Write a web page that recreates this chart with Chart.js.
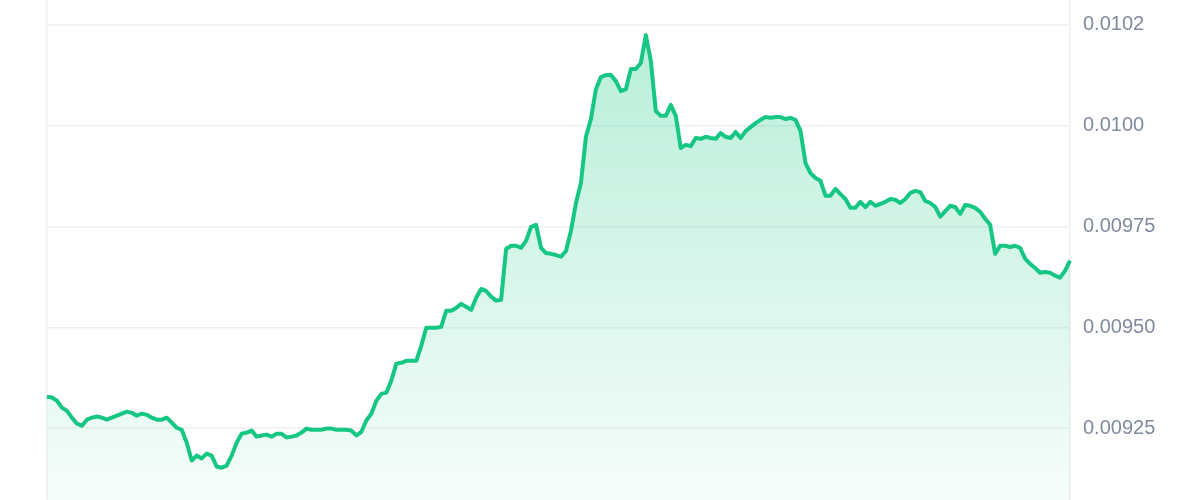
<!DOCTYPE html>
<html>
<head>
<meta charset="utf-8">
<script src="https://cdn.jsdelivr.net/npm/chart.js@4.4.0/dist/chart.umd.min.js"></script>
<style>
  html, body { margin: 0; padding: 0; background: #fff; }
  #wrap { width: 1200px; height: 500px; }
</style>
</head>
<body>
<div id="wrap"><canvas id="priceChart"></canvas></div>
<script>
// price, left to right
const prices = [
  0.009328, 0.009326, 0.009318, 0.009301, 0.009293, 0.009276, 0.009261, 0.009256, 0.009271, 0.009276,
  0.009279, 0.009276, 0.009271, 0.009276, 0.009281, 0.009286, 0.009291, 0.009288, 0.009281, 0.009286,
  0.009283, 0.009276, 0.009271, 0.009271, 0.009276, 0.009264, 0.009251, 0.009246, 0.009214, 0.009170,
  0.009182, 0.009175, 0.009187, 0.009182, 0.009155, 0.009152, 0.009157, 0.009182, 0.009214, 0.009236,
  0.009239, 0.009244, 0.009229, 0.009232, 0.009234, 0.009229, 0.009236, 0.009236, 0.009227, 0.009229,
  0.009232, 0.009239, 0.009249, 0.009246, 0.009246, 0.009246, 0.009249, 0.009249, 0.009246, 0.009246,
  0.009246, 0.009244, 0.009232, 0.009241, 0.009269, 0.009286, 0.009318, 0.009335, 0.009338, 0.009368,
  0.009410, 0.009412, 0.009417, 0.009417, 0.009417, 0.009454, 0.009499, 0.009499, 0.009499, 0.009501,
  0.009541, 0.009541, 0.009548, 0.009558, 0.009551, 0.009543, 0.009573, 0.009595, 0.009590, 0.009576,
  0.009566, 0.009568, 0.009694, 0.009702, 0.009702, 0.009697, 0.009714, 0.009749, 0.009754, 0.009697,
  0.009684, 0.009682, 0.009679, 0.009675, 0.009689, 0.009739, 0.009808, 0.009858, 0.009972, 0.010016,
  0.010090, 0.010120, 0.010125, 0.010125, 0.010110, 0.010085, 0.010090, 0.010140, 0.010140, 0.010155,
  0.010224, 0.010160, 0.010036, 0.010024, 0.010024, 0.010051, 0.010024, 0.009944, 0.009952, 0.009949,
  0.009969, 0.009967, 0.009972, 0.009969, 0.009967, 0.009981, 0.009972, 0.009969, 0.009984, 0.009969,
  0.009986, 0.009996, 0.010006, 0.010014, 0.010021, 0.010019, 0.010021, 0.010021, 0.010016, 0.010019,
  0.010014, 0.009986, 0.009907, 0.009882, 0.009870, 0.009863, 0.009826, 0.009826, 0.009843, 0.009830,
  0.009818, 0.009796, 0.009796, 0.009811, 0.009798, 0.009811, 0.009801, 0.009806, 0.009811, 0.009818,
  0.009816, 0.009808, 0.009818, 0.009833, 0.009838, 0.009835, 0.009813, 0.009808, 0.009798, 0.009774,
  0.009788, 0.009801, 0.009798, 0.009781, 0.009803, 0.009801, 0.009796, 0.009786, 0.009769, 0.009754,
  0.009682, 0.009702, 0.009702, 0.009699, 0.009702, 0.009697, 0.009670, 0.009657, 0.009647, 0.009635,
  0.009637, 0.009635, 0.009628, 0.009623, 0.009640, 0.009665
];

// x axis is hidden, labels are just the sample number
const labels = prices.map((p, i) => i);

// ticks shown on the right, and the text printed for each
const tickValues = [0.00925, 0.0095, 0.00975, 0.01, 0.01025];
const tickLabels = ['0.00925', '0.00950', '0.00975', '0.0100', '0.0102'];

const yMin = 0.009072;
const yMax = 0.010311;

const green = '#16c784';

function fillGradient(context) {
  const chart = context.chart;
  const area = chart.chartArea;
  if (!area) return 'rgba(22,199,132,0.2)';
  const g = chart.ctx.createLinearGradient(0, area.top, 0, area.bottom);
  g.addColorStop(0, 'rgba(22,199,132,0.32)');
  g.addColorStop(1, 'rgba(22,199,132,0.04)');
  return g;
}

const ctx = document.getElementById('priceChart').getContext('2d');

const chart = new Chart(ctx, {
  type: 'line',
  data: {
    labels: labels,
    datasets: [{
      data: prices,
      borderColor: green,
      borderWidth: 4,
      borderJoinStyle: 'round',
      backgroundColor: fillGradient,
      fill: 'start',
      pointRadius: 0,
      tension: 0,
      yAxisID: 'y'
    }]
  },
  options: {
    responsive: true,
    maintainAspectRatio: false,
    animation: false,
    layout: { padding: { left: 47, top: 0, bottom: 0, right: 0 } },
    plugins: {
      legend: { display: false },
      tooltip: { enabled: false }
    },
    scales: {
      x: { display: false },
      y: {
        position: 'right',
        min: yMin,
        max: yMax,
        afterBuildTicks: (scale) => {
          scale.ticks = tickValues.map(v => ({ value: v }));
        },
        afterFit: (scale) => {
          scale.width = 130;
          // no room kept above/below for the end labels
          scale.paddingTop = 0;
          scale.paddingBottom = 0;
        },
        grid: { color: '#eff0f1', lineWidth: 1.5, drawTicks: false },
        border: { display: true, color: '#eff0f1', width: 1.5 },
        ticks: {
          padding: 13,
          color: '#808a9d',
          font: { family: '"Liberation Sans", Arial, sans-serif', size: 20 },
          callback: (v, i) => tickLabels[i]
        }
      },
      // only here to draw the left edge line
      yLeft: {
        position: 'left',
        display: true,
        grid: { display: false, drawTicks: false },
        border: { display: true, color: '#eff0f1', width: 1.5 },
        ticks: { display: false }
      }
    }
  }
});
</script>
</body>
</html>
